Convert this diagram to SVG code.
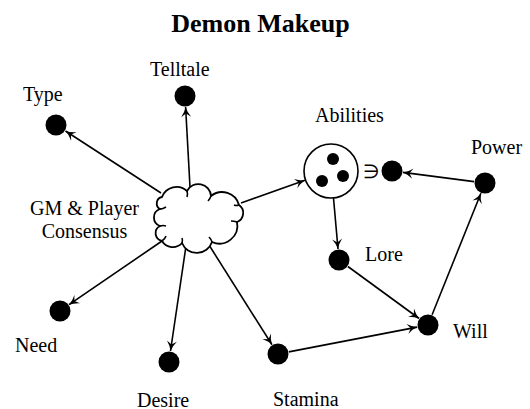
<svg xmlns="http://www.w3.org/2000/svg" width="530" height="409" viewBox="0 0 530 409">
<defs>
<marker id="arr" markerUnits="userSpaceOnUse" markerWidth="14" markerHeight="12" viewBox="-11 -6 12 12" refX="0" refY="0" orient="auto">
<path d="M0,0 Q-5,-1.2 -10,-5 L-6.5,0 L-10,5 Q-5,1.2 0,0 Z" fill="#000"/>
</marker>
</defs>
<rect width="530" height="409" fill="#fff"/>
<text font-family="Liberation Serif" font-size="26" font-weight="bold" x="260.5" y="32" text-anchor="middle">Demon Makeup</text>

<g id="connectors" stroke="#000" stroke-width="1.6" fill="none" marker-end="url(#arr)">
<line x1="161" y1="193" x2="65.5" y2="131"/>
<line x1="190" y1="187" x2="185.6" y2="107"/>
<line x1="241" y1="203" x2="305" y2="180.3"/>
<line x1="162" y1="241" x2="69" y2="304.7"/>
<line x1="186" y1="246" x2="170.5" y2="351"/>
<line x1="209" y1="245" x2="272" y2="344.7"/>
<line x1="333.5" y1="198" x2="338" y2="249"/>
<line x1="347.9" y1="266.5" x2="419.1" y2="318.5"/>
<line x1="288.8" y1="351.9" x2="417.2" y2="327.1"/>
<line x1="432.1" y1="314.8" x2="480.9" y2="193.2"/>
<line x1="474.1" y1="181.6" x2="402.9" y2="172.4"/>
</g>

<g font-family="Liberation Serif" font-size="20" fill="#000">
<g id="consensus">
<path fill="#fff" stroke="#000" stroke-width="1.8" d="M162,197 A15.6,15.6 0 0 1 187,191 A12.7,12.7 0 0 1 211,196 A17.6,17.6 0 0 1 239,205 A9.7,9.7 0 0 1 237,222 A18,18 0 0 1 212,242 A16,16 0 0 1 182,243 A12.5,12.5 0 0 1 162,241 A8,8 0 0 1 160,226 A9,9 0 0 1 160,209 A6.5,6.5 0 0 1 162,197 Z"/>
<path stroke="#000" stroke-width="1.6" fill="none" d="M187,191 q1,3 0,6 M211,196 q-1,3 -3,5 M239,205 q-3,1 -5,0 M237,222 q-3,-1 -6,-1 M212,242 q-1,-3 -3,-5 M182,243 q1,-3 0,-5 M162,241 q3,-2 4,-5 M160,226 q3,-1 6,0 M160,209 q3,0 6,-2"/>
<text x="84.5" y="215" text-anchor="middle">GM &amp; Player</text>
<text x="84.5" y="238" text-anchor="middle">Consensus</text>
</g>
<g id="type">
<circle cx="56" cy="125" r="10.5"/>
<text x="23" y="101">Type</text>
</g>
<g id="telltale">
<circle cx="185" cy="96" r="10.5"/>
<text x="150" y="75.5">Telltale</text>
</g>
<g id="abilities">
<circle cx="331" cy="171" r="27" fill="#fff" stroke="#000" stroke-width="1.6"/>
<circle cx="333" cy="159" r="6"/>
<circle cx="343" cy="176" r="6"/>
<circle cx="322" cy="181" r="6"/>
<text x="315" y="122">Abilities</text>
</g>
<g id="power-source">
<text x="371" y="178" text-anchor="middle" font-size="19">&#8715;</text>
<circle cx="392" cy="171" r="10.5"/>
</g>
<g id="power">
<circle cx="485" cy="183" r="10.5"/>
<text x="471" y="154">Power</text>
</g>
<g id="lore">
<circle cx="339" cy="260" r="10.5"/>
<text x="365" y="261">Lore</text>
</g>
<g id="will">
<circle cx="428" cy="325" r="10.5"/>
<text x="453" y="338">Will</text>
</g>
<g id="stamina">
<circle cx="278" cy="354" r="10.5"/>
<text x="273" y="405.5">Stamina</text>
</g>
<g id="need">
<circle cx="60" cy="311" r="10.5"/>
<text x="15" y="352">Need</text>
</g>
<g id="desire">
<circle cx="169" cy="362" r="10.5"/>
<text x="137" y="406.5">Desire</text>
</g>
</g>
</svg>
